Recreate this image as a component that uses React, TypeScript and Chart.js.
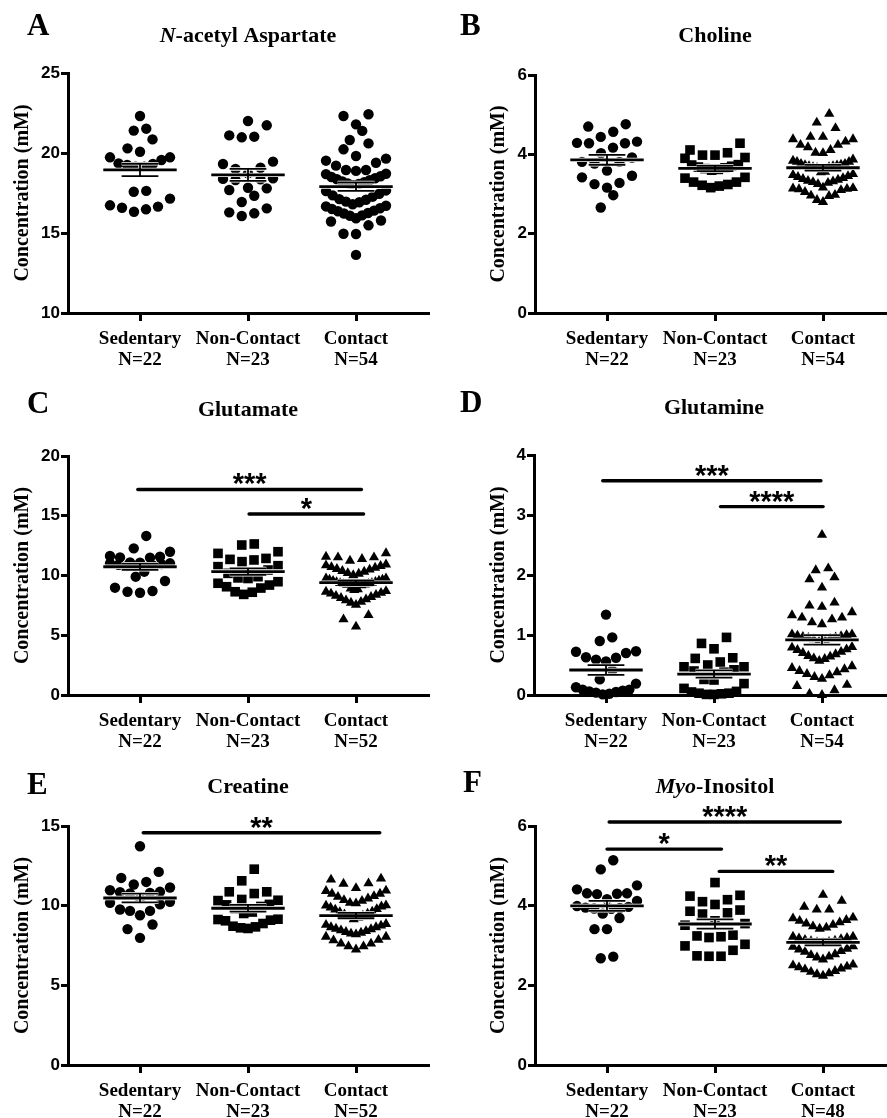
import React, { useEffect, useRef } from 'react';
import { Chart, registerables } from 'chart.js';

Chart.register(...registerables);

const groupNames = ['Sedentary', 'Non-Contact', 'Contact'];

// ---- Panel A: N-acetyl Aspartate ----
const naaSedentary = [22.31, 21.4, 21.52, 20.85, 20.29, 20.08, 19.73, 19.73, 19.56, 19.35, 19.25, 19.14, 19.14, 19.31, 17.63, 17.58, 17.15, 16.73, 16.58, 16.33, 16.48, 16.65];
const naaNonContact = [22.0, 21.73, 21.1, 20.98, 21.02, 19.46, 19.31, 19.08, 19.0, 18.73, 18.38, 18.31, 18.35, 18.42, 17.83, 17.69, 17.79, 17.33, 16.94, 16.29, 16.06, 16.23, 16.54];
const naaContact = [22.42, 22.31, 21.79, 21.38, 20.81, 20.6, 20.23, 19.81, 19.52, 19.65, 19.21, 19.39, 18.94, 18.88, 18.94,
  18.7, 18.55, 18.42, 18.3, 18.18, 18.06, 17.98, 18.1, 18.22, 18.36, 18.5, 18.68,
  17.66, 17.45, 17.27, 17.08, 16.92, 16.8, 16.96, 17.12, 17.35, 17.62,
  16.7, 16.55, 16.4, 16.25, 16.1, 15.92, 16.08, 16.22, 16.36, 16.5, 16.66,
  15.72, 15.78, 15.48, 14.95, 14.94, 13.63];
const naaCounts = ['N=22', 'N=23', 'N=54'];

// ---- Panel B: Choline ----
const choSedentary = [4.76, 4.7, 4.57, 4.44, 4.32, 4.28, 4.28, 4.29, 4.17, 4.03, 3.92, 3.81, 3.77, 3.81, 3.59, 3.42, 3.46, 3.25, 3.28, 3.16, 2.97, 2.66];
const choNonContact = [4.28, 4.04, 4.11, 3.98, 3.98, 3.9, 3.92, 3.73, 3.7, 3.66, 3.62, 3.6, 3.64, 3.68, 3.74, 3.42, 3.3, 3.24, 3.2, 3.16, 3.22, 3.3, 3.4];
const choContact = [5.02, 4.8, 4.66, 4.44, 4.44, 4.38, 4.38, 4.32, 4.24, 4.24, 4.18, 4.11, 4.04, 4.03, 3.87, 3.84, 3.81, 3.81,
  3.76, 3.74, 3.72, 3.7, 3.68, 3.66, 3.68, 3.7, 3.73, 3.76,
  3.56, 3.5, 3.45, 3.4, 3.36, 3.32, 3.28, 3.25, 3.3, 3.33, 3.38, 3.43, 3.48, 3.55,
  3.16, 3.14, 3.12, 3.1, 3.05, 3.13, 3.15,
  2.98, 2.96, 2.95, 2.85, 2.8];
const choCounts = ['N=22', 'N=23', 'N=54'];

// ---- Panel C: Glutamate ----
const gluSedentary = [13.31, 12.27, 11.99, 11.57, 11.52, 11.49, 11.63, 11.1, 11.02, 10.95, 10.85, 10.9, 11.0, 11.08, 10.8, 10.32, 9.9, 9.54, 8.7, 8.56, 8.64, 8.98];
const gluNonContact = [12.55, 12.64, 11.85, 11.99, 11.3, 11.35, 11.43, 11.16, 10.82, 10.46, 10.18, 10.74, 9.9, 9.48, 9.06, 8.64, 8.42, 8.6, 8.95, 9.35, 9.8, 9.75, 9.2];
const gluContact = [11.86, 11.57, 11.52, 11.52, 11.38, 11.24,
  10.92, 10.8, 10.65, 10.5, 10.32, 10.15, 10.02, 10.2, 10.38, 10.55, 10.7, 10.85,
  9.75, 9.65, 9.55, 9.45, 9.36, 9.28, 9.22, 9.18, 9.24, 9.3, 9.38, 9.47, 9.56, 9.66, 9.76,
  8.9, 8.78, 8.64, 8.48, 8.3, 8.12, 7.92, 7.72, 7.55, 7.8, 8.0, 8.2, 8.38, 8.55, 8.7, 8.85,
  6.69, 6.33, 5.72];
const gluCounts = ['N=22', 'N=23', 'N=52'];
const gluSigFrom = [0.98, 2.01];
const gluSigTo = [3.05, 3.07];
const gluSigY = [17.2, 15.15];
const gluSigLabel = ['***', '*'];

// ---- Panel D: Glutamine ----
const glnSedentary = [1.34, 0.96, 0.9, 0.73, 0.7, 0.62, 0.56, 0.59, 0.63, 0.72, 0.41, 0.26, 0.19, 0.09, 0.07, 0.13, 0.05, 0.09, 0.02, 0.01, 0.06, 0.04];
const glnNonContact = [0.96, 0.86, 0.77, 0.61, 0.62, 0.55, 0.47, 0.47, 0.5, 0.42, 0.38, 0.4, 0.26, 0.25, 0.19, 0.11, 0.05, 0.02, 0.01, 0.01, 0.03, 0.06, 0.03];
const glnContact = [2.67, 2.11, 2.08, 1.96, 1.93, 1.79, 1.49, 1.47, 1.54, 1.38, 1.29, 1.26, 1.18, 1.21, 1.29, 1.33,
  1.01, 1.0, 0.98, 0.96, 0.94, 0.92, 0.9, 0.93, 0.95, 0.97, 0.99, 1.01,
  0.8, 0.76, 0.72, 0.68, 0.64, 0.6, 0.57, 0.61, 0.65, 0.7, 0.75, 0.79,
  0.48, 0.45, 0.4, 0.35, 0.3, 0.27, 0.33, 0.38, 0.43,
  0.17, 0.15, 0.08, 0.02, 0.0];
const glnCounts = ['N=22', 'N=23', 'N=54'];
const glnSigFrom = [0.97, 2.06];
const glnSigTo = [2.99, 3.01];
const glnSigY = [3.57, 3.14];
const glnSigLabel = ['***', '****'];

// ---- Panel E: Creatine ----
const creSedentary = [13.73, 12.12, 11.74, 11.49, 11.33, 10.87, 11.14, 10.97, 10.77, 10.8, 10.85, 10.45, 10.18, 10.24, 10.09, 9.76, 9.67, 9.4, 9.67, 8.82, 8.53, 7.98];
const creNonContact = [12.29, 11.56, 10.87, 10.76, 10.87, 10.39, 10.34, 10.32, 10.08, 10.05, 9.82, 9.95, 9.51, 9.6, 9.13, 8.88, 8.71, 8.61, 8.57, 8.67, 9.09, 9.15, 9.05];
const creContact = [11.64, 11.4, 11.38, 11.7,
  11.1, 10.92, 10.75, 10.6, 10.45, 10.3, 10.15, 10.02, 10.18, 10.35, 10.55, 10.75, 10.95,
  10.0, 9.88, 9.75, 9.62, 9.5, 9.37, 9.25, 9.15, 9.3, 9.45, 9.6, 9.78, 9.95,
  8.85, 8.75, 8.65, 8.55, 8.45, 8.35, 8.25, 8.2, 8.3, 8.4, 8.52, 8.65, 8.8,
  8.05, 7.85, 7.62, 7.45, 7.25, 7.45, 7.62, 7.82, 8.05];
const creCounts = ['N=22', 'N=23', 'N=52'];
const creSigFrom = [1.03];
const creSigTo = [3.22];
const creSigY = [14.58];
const creSigLabel = ['**'];

// ---- Panel F: Myo-Inositol ----
const mioSedentary = [5.14, 4.91, 4.51, 4.41, 4.31, 4.3, 4.29, 4.31, 4.16, 4.12, 3.99, 3.95, 3.93, 3.92, 3.94, 3.97, 3.8, 3.69, 3.41, 3.41, 2.68, 2.72];
const mioNonContact = [4.58, 4.26, 4.15, 4.1, 4.24, 4.03, 3.89, 3.82, 3.79, 3.86, 3.62, 3.55, 3.51, 3.26, 3.24, 3.2, 3.22, 3.03, 2.99, 2.73, 2.73, 2.74, 2.88];
const mioContact = [4.27, 3.97, 3.9, 3.9, 4.12,
  3.7, 3.64, 3.58, 3.52, 3.45, 3.42, 3.48, 3.55, 3.62, 3.68,
  3.22, 3.19, 3.16, 3.12, 3.09, 3.06, 3.08, 3.11, 3.14, 3.18, 3.22,
  2.98, 2.92, 2.86, 2.78, 2.72, 2.65, 2.7, 2.76, 2.84, 2.9, 2.97,
  2.52, 2.47, 2.42, 2.36, 2.3, 2.24, 2.28, 2.34, 2.4, 2.45, 2.5];
const mioCounts = ['N=22', 'N=23', 'N=48'];
const mioSigFrom = [1.02, 1.0, 2.04];
const mioSigTo = [3.16, 2.06, 3.09];
const mioSigY = [6.1, 5.42, 4.86];
const mioSigLabel = ['****', '*', '**'];

type TitlePart = { text: string; italic?: boolean };

interface Panel {
  key: string;
  letter: string;
  title: TitlePart[];
  values: number[][];
  counts: string[];
  shapes: string[];
  yMin: number;
  yMax: number;
  yStep: number;
  sigFrom: number[];
  sigTo: number[];
  sigY: number[];
  sigLabel: string[];
  box: { left: number; top: number; canvasW: number; canvasH: number };
  area: { left: number; right: number; top: number; bottom: number };
  titleY: number;
  letterX: number;
  letterY: number;
  yTitleX: number;
}

const panels: Panel[] = [
  {
    key: 'A', letter: 'A', title: [{ text: 'N', italic: true }, { text: '-acetyl Aspartate' }],
    values: [naaSedentary, naaNonContact, naaContact], counts: naaCounts,
    shapes: ['circle', 'circle', 'circle'], yMin: 10, yMax: 25, yStep: 5,
    sigFrom: [], sigTo: [], sigY: [], sigLabel: [],
    box: { left: 0, top: 0, canvasW: 443, canvasH: 390 },
    area: { left: 68, right: 428, top: 73, bottom: 313 },
    titleY: 35, letterX: 27, letterY: 35, yTitleX: 23,
  },
  {
    key: 'B', letter: 'B', title: [{ text: 'Choline' }],
    values: [choSedentary, choNonContact, choContact], counts: choCounts,
    shapes: ['circle', 'rect', 'triangle'], yMin: 0, yMax: 6, yStep: 2,
    sigFrom: [], sigTo: [], sigY: [], sigLabel: [],
    box: { left: 443, top: 0, canvasW: 462, canvasH: 390 },
    area: { left: 92, right: 452, top: 75, bottom: 313 },
    titleY: 35, letterX: 17, letterY: 35, yTitleX: 56,
  },
  {
    key: 'C', letter: 'C', title: [{ text: 'Glutamate' }],
    values: [gluSedentary, gluNonContact, gluContact], counts: gluCounts,
    shapes: ['circle', 'rect', 'triangle'], yMin: 0, yMax: 20, yStep: 5,
    sigFrom: gluSigFrom, sigTo: gluSigTo, sigY: gluSigY, sigLabel: gluSigLabel,
    box: { left: 0, top: 372, canvasW: 443, canvasH: 390 },
    area: { left: 68, right: 428, top: 84, bottom: 323 },
    titleY: 37, letterX: 27, letterY: 41, yTitleX: 23,
  },
  {
    key: 'D', letter: 'D', title: [{ text: 'Glutamine' }],
    values: [glnSedentary, glnNonContact, glnContact], counts: glnCounts,
    shapes: ['circle', 'rect', 'triangle'], yMin: 0, yMax: 4, yStep: 1,
    sigFrom: glnSigFrom, sigTo: glnSigTo, sigY: glnSigY, sigLabel: glnSigLabel,
    box: { left: 443, top: 372, canvasW: 462, canvasH: 390 },
    area: { left: 91, right: 451, top: 83, bottom: 323 },
    titleY: 35, letterX: 17, letterY: 40, yTitleX: 56,
  },
  {
    key: 'E', letter: 'E', title: [{ text: 'Creatine' }],
    values: [creSedentary, creNonContact, creContact], counts: creCounts,
    shapes: ['circle', 'rect', 'triangle'], yMin: 0, yMax: 15, yStep: 5,
    sigFrom: creSigFrom, sigTo: creSigTo, sigY: creSigY, sigLabel: creSigLabel,
    box: { left: 0, top: 744, canvasW: 443, canvasH: 380 },
    area: { left: 68, right: 428, top: 82, bottom: 321 },
    titleY: 42, letterX: 27, letterY: 50, yTitleX: 23,
  },
  {
    key: 'F', letter: 'F', title: [{ text: 'Myo', italic: true }, { text: '-Inositol' }],
    values: [mioSedentary, mioNonContact, mioContact], counts: mioCounts,
    shapes: ['circle', 'rect', 'triangle'], yMin: 0, yMax: 6, yStep: 2,
    sigFrom: mioSigFrom, sigTo: mioSigTo, sigY: mioSigY, sigLabel: mioSigLabel,
    box: { left: 443, top: 744, canvasW: 462, canvasH: 380 },
    area: { left: 92, right: 452, top: 82, bottom: 321 },
    titleY: 42, letterX: 20, letterY: 48, yTitleX: 56,
  },
];

const SERIF = '"Liberation Serif", "Times New Roman", serif';
const SANS = '"Liberation Sans", Arial, sans-serif';

// Prism-like column scatter: group points into horizontal rows and spread
// each row symmetrically, lowest value in the middle.
function swarmOffsets(py: number[], rowH: number, slot: number, maxHalf: number): number[] {
  const order = py.map((_, i) => i).sort((a, b) => py[b] - py[a]);
  const out = new Array(py.length).fill(0);
  let i = 0;
  while (i < order.length) {
    const start = py[order[i]];
    const row: number[] = [];
    while (i < order.length && start - py[order[i]] < rowH) {
      row.push(order[i]);
      i++;
    }
    const n = row.length;
    const sp = n > 1 ? Math.min(slot, (2 * maxHalf) / (n - 1)) : 0;
    row.forEach((p, k) => {
      let pos: number;
      if (n % 2 === 1) {
        const m = Math.ceil(k / 2);
        pos = k === 0 ? 0 : k % 2 === 1 ? -m : m;
      } else {
        const m = Math.floor(k / 2) + 0.5;
        pos = k % 2 === 0 ? -m : m;
      }
      out[p] = pos * sp;
    });
  }
  return out;
}

const shapeRadius: Record<string, number> = { circle: 5.2, rect: 6.8, triangle: 5.9 };

function makeChart(canvas: HTMLCanvasElement, p: Panel): Chart {
  const datasets = p.values.map((vals, g) => ({
    label: groupNames[g],
    data: vals.map((v) => ({ x: g + 1, y: v })),
    pointStyle: p.shapes[g],
    pointRadius: shapeRadius[p.shapes[g]],
    pointHoverRadius: shapeRadius[p.shapes[g]],
    pointBackgroundColor: '#000',
    pointBorderColor: '#000',
    pointBorderWidth: 0,
    showLine: false,
    clip: false,
  }));

  const overlay = {
    id: 'overlay' + p.key,
    afterDatasetsDraw(chart: any) {
      const ctx = chart.ctx;
      const xs = chart.scales.x;
      const ys = chart.scales.y;
      p.values.forEach((vals, g) => {
        const n = vals.length;
        const mean = vals.reduce((a, b) => a + b, 0) / n;
        const sd = Math.sqrt(vals.reduce((a, b) => a + (b - mean) * (b - mean), 0) / (n - 1));
        const sem = sd / Math.sqrt(n);
        const cx = xs.getPixelForValue(g + 1);
        const mx0 = xs.getPixelForValue(g + 1 - 0.34);
        const mx1 = xs.getPixelForValue(g + 1 + 0.34);
        const cx0 = xs.getPixelForValue(g + 1 - 0.17);
        const cx1 = xs.getPixelForValue(g + 1 + 0.17);
        const ym = ys.getPixelForValue(mean);
        const yt = ys.getPixelForValue(mean + sem);
        const yb = ys.getPixelForValue(mean - sem);
        const segs: number[][] = [
          [cx, yt, cx, yb, 1.8],
          [cx0, yt, cx1, yt, 1.8],
          [cx0, yb, cx1, yb, 1.8],
          [mx0, ym, mx1, ym, 2.8],
        ];
        ctx.save();
        ctx.lineCap = 'butt';
        segs.forEach((s) => {
          ctx.strokeStyle = '#fff';
          ctx.lineWidth = s[4] + 1.6;
          ctx.beginPath();
          ctx.moveTo(s[0], s[1]);
          ctx.lineTo(s[2], s[3]);
          ctx.stroke();
        });
        segs.forEach((s) => {
          ctx.strokeStyle = '#000';
          ctx.lineWidth = s[4];
          ctx.beginPath();
          ctx.moveTo(s[0], s[1]);
          ctx.lineTo(s[2], s[3]);
          ctx.stroke();
        });
        ctx.restore();
      });
    },
    afterDraw(chart: any) {
      const ctx = chart.ctx;
      const xs = chart.scales.x;
      const ys = chart.scales.y;
      const area = chart.chartArea;
      ctx.save();
      ctx.fillStyle = '#000';
      // panel letter
      ctx.font = `bold 31px ${SERIF}`;
      ctx.textAlign = 'left';
      ctx.textBaseline = 'alphabetic';
      ctx.fillText(p.letter, p.letterX, p.letterY);
      // title (mixed italic)
      const fonts = p.title.map((t) => `${t.italic ? 'italic ' : ''}bold 22px ${SERIF}`);
      let total = 0;
      const widths = p.title.map((t, i) => {
        ctx.font = fonts[i];
        const w = ctx.measureText(t.text).width;
        total += w;
        return w;
      });
      let tx = (area.left + area.right) / 2 - total / 2;
      ctx.textBaseline = 'middle';
      p.title.forEach((t, i) => {
        ctx.font = fonts[i];
        ctx.fillText(t.text, tx, p.titleY + 1);
        tx += widths[i];
      });
      // significance bars
      ctx.strokeStyle = '#000';
      ctx.lineWidth = 3.4;
      ctx.lineCap = 'round';
      ctx.font = `bold 29px ${SANS}`;
      ctx.textAlign = 'center';
      ctx.textBaseline = 'alphabetic';
      p.sigY.forEach((yv, i) => {
        const x0 = xs.getPixelForValue(p.sigFrom[i]);
        const x1 = xs.getPixelForValue(p.sigTo[i]);
        const y = ys.getPixelForValue(yv);
        ctx.beginPath();
        ctx.moveTo(x0, y);
        ctx.lineTo(x1, y);
        ctx.stroke();
        const m = ctx.measureText(p.sigLabel[i]);
        const base = y - 4 - m.actualBoundingBoxDescent;
        ctx.fillText(p.sigLabel[i], (x0 + x1) / 2, base);
      });
      ctx.restore();
    },
  };

  const chart = new Chart(canvas, {
    type: 'scatter',
    data: { datasets } as any,
    options: {
      responsive: false,
      animation: false,
      devicePixelRatio: 1,
      events: [],
      layout: { padding: { left: 0, top: p.area.top, right: p.box.canvasW - p.area.right, bottom: 0 } },
      plugins: { legend: { display: false }, tooltip: { enabled: false }, title: { display: false } },
      scales: {
        x: {
          type: 'linear',
          min: 1 / 3,
          max: 11 / 3,
          afterBuildTicks: (s: any) => {
            s.ticks = [1, 2, 3].map((v) => ({ value: v }));
          },
          afterFit: (s: any) => {
            s.height = p.box.canvasH - p.area.bottom;
          },
          ticks: {
            callback: (v: any) => {
              const k = Math.round(Number(v)) - 1;
              return [groupNames[k], p.counts[k]];
            },
            color: '#000',
            font: { family: SERIF, weight: 'bold', size: 19, lineHeight: 1.1 },
            padding: 8,
            maxRotation: 0,
            autoSkip: false,
          },
          grid: { drawOnChartArea: false, drawTicks: true, tickLength: 8, lineWidth: 3, color: '#000' },
          border: { display: true, color: '#000', width: 3 },
        },
        y: {
          type: 'linear',
          min: p.yMin,
          max: p.yMax,
          afterFit: (s: any) => {
            s.width = p.area.left;
          },
          ticks: {
            stepSize: p.yStep,
            color: '#000',
            font: { family: SANS, weight: 'bold', size: 17 },
            padding: 1,
          },
          grid: { drawOnChartArea: false, drawTicks: true, tickLength: 7, lineWidth: 3, color: '#000' },
          border: { display: true, color: '#000', width: 3 },
          title: {
            display: true,
            text: 'Concentration (mM)',
            color: '#000',
            font: { family: SERIF, weight: 'bold', size: 20, lineHeight: 1.2 },
            padding: { top: p.yTitleX - 12, bottom: 0 },
          },
        },
      },
    } as any,
    plugins: [overlay],
  });

  const xs: any = chart.scales.x;
  const ys: any = chart.scales.y;
  const unit = xs.getPixelForValue(2) - xs.getPixelForValue(1);
  chart.data.datasets.forEach((ds: any, g: number) => {
    const vals = p.values[g];
    const py = vals.map((v) => ys.getPixelForValue(v));
    const off = swarmOffsets(py, 14, 12.5, 30);
    ds.data = vals.map((v, i) => ({ x: g + 1 + off[i] / unit, y: v }));
  });
  chart.update();
  return chart;
}

export default function App() {
  const refs = useRef<(HTMLCanvasElement | null)[]>([]);
  useEffect(() => {
    const charts = panels.map((p, i) => makeChart(refs.current[i] as HTMLCanvasElement, p));
    return () => charts.forEach((c) => c.destroy());
  }, []);
  return (
    <div style={{ position: 'absolute', left: 0, top: 0, width: 887, height: 1118, background: '#fff', overflow: 'hidden' }}>
      {panels.map((p, i) => (
        <div key={p.key} style={{ position: 'absolute', left: p.box.left, top: p.box.top }}>
          <canvas
            ref={(el) => {
              refs.current[i] = el;
            }}
            width={p.box.canvasW}
            height={p.box.canvasH}
            style={{ display: 'block', width: p.box.canvasW, height: p.box.canvasH }}
          />
        </div>
      ))}
    </div>
  );
}
